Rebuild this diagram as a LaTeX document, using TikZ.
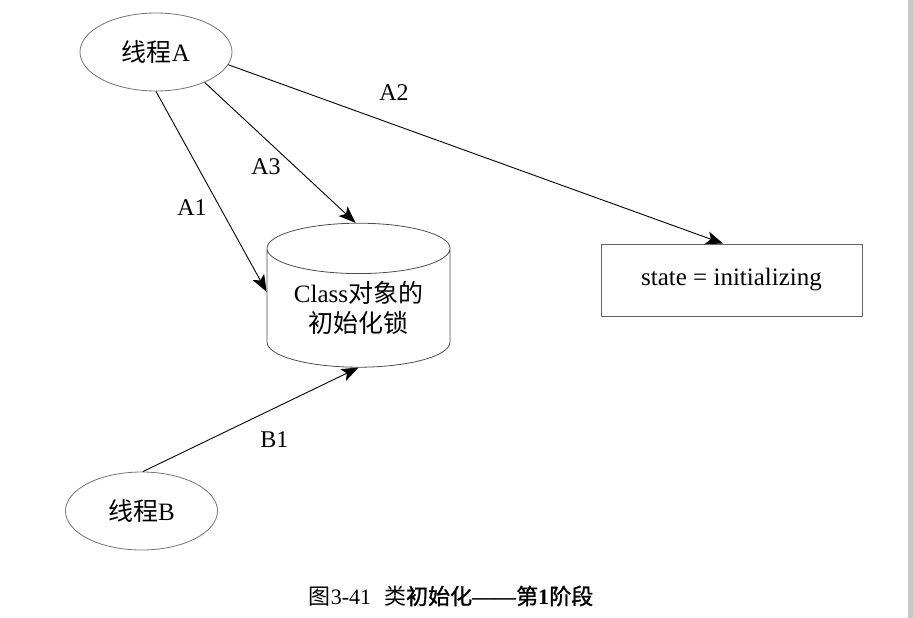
\documentclass[tikz,border=0pt]{standalone}
\usepackage{fontspec}
\setmainfont{Liberation Serif}
\newfontfamily\cjk{Noto Sans CJK SC}
\newfontfamily\cjkbf[FakeBold=1.2]{Noto Sans CJK SC}
\newcommand{\zh}[1]{{\cjk #1}}
\newcommand{\zhbf}[1]{{\cjkbf #1}}
\usetikzlibrary{shapes.geometric, arrows.meta, positioning}

\begin{document}
\begin{tikzpicture}[x=1pt, y=-1pt, >=Stealth, font=\fontsize{25}{30}\selectfont]

% --- Styles ---
\tikzset{
    thread/.style={ellipse, draw=black!55, line width=0.8pt, minimum width=152pt, minimum height=78pt, inner sep=0pt},
    lockCyl/.style={cylinder, shape border rotate=90, aspect=0.39, draw=black!70, line width=0.8pt, minimum width=183pt, minimum height=144pt, inner sep=0pt, align=center},
    stateBox/.style={rectangle, draw=black!60, line width=0.8pt, minimum width=261pt, minimum height=72pt},
    msgArrow/.style={-{Stealth[length=17pt, width=13pt, inset=4pt]}, line width=0.9pt},
    msgLabel/.style={font=\fontsize{24}{28}\selectfont, inner sep=2pt},
}

% --- Frame ---
\useasboundingbox (0,0) rectangle (913,618);
\fill[black!22] (908,0) rectangle (913,618);

% --- Threads and objects ---
\node[thread] (thA) at (156,52) {\zh{线程}A};
\node[thread] (thB) at (141.5,511) {\zh{线程}B};
\node[lockCyl] (lock) at (358.5,308) {Class\zh{对象的}\\\zh{初始化锁}};
\node[stateBox] (state) at (731.5,280) {state = initializing};

% --- Messages ---
\draw[msgArrow] (thA.-90) -- (lock.170) node[msgLabel, pos=0.58, left=11pt] {A1};
\draw[msgArrow] (thA.-10) -- (state.103) node[msgLabel, pos=0.335, above=22pt] {A2};
\draw[msgArrow] (thA.-32) -- (lock.92) node[msgLabel, pos=0.6, left=12pt] {A3};
\draw[msgArrow] (thB.88) -- (lock.-90) node[msgLabel, pos=0.61, below=21pt] {B1};

% --- Caption ---
\node[font=\fontsize{22}{26}\selectfont] (caption) at (451,596)
    {\zh{图}3-41\hspace{13pt}\zh{类}\zhbf{初始化}\textbf{——}\zhbf{第}\textbf{1}\zhbf{阶段}};

\end{tikzpicture}
\end{document}
